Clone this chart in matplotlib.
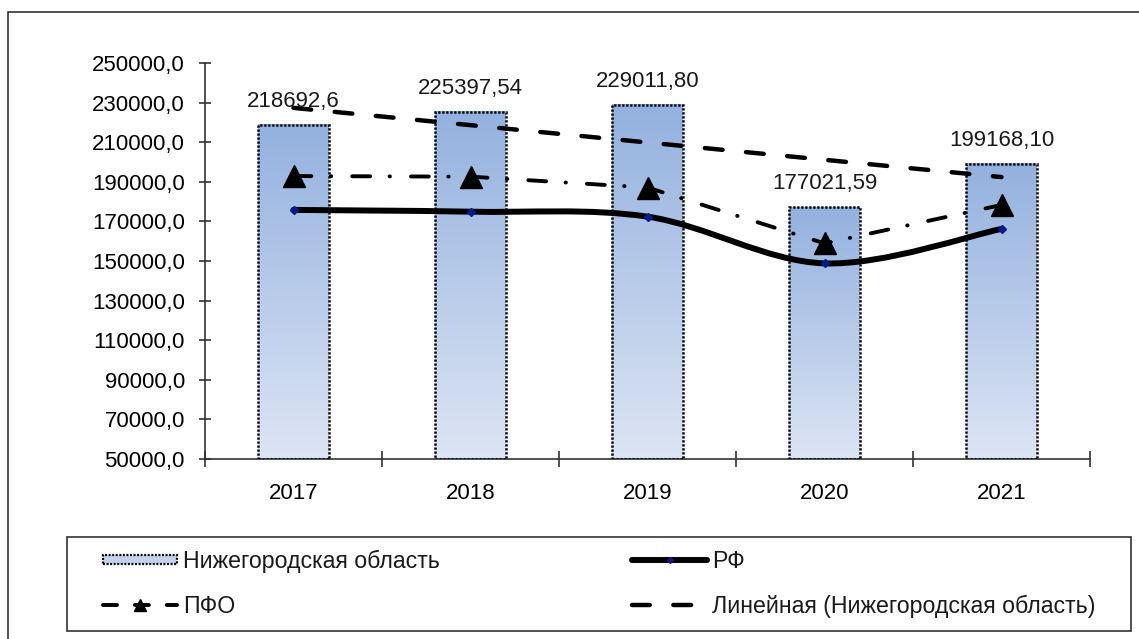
import numpy as np
import matplotlib
matplotlib.use("Agg")
import matplotlib.pyplot as plt
from matplotlib.patches import Rectangle, Patch
from matplotlib.path import Path
from matplotlib.patches import PathPatch
from matplotlib.lines import Line2D
from matplotlib.legend_handler import HandlerPatch
from matplotlib.colors import LinearSegmentedColormap
from matplotlib.ticker import FuncFormatter, FixedLocator

plt.rcParams.update({
    "font.family": ["Liberation Sans", "DejaVu Sans"],
    "font.size": 16,
    "text.color": "#1a1a1a",
})

# ---- data ----
years = ["2017", "2018", "2019", "2020", "2021"]
nizhny = [218692.6, 225397.54, 229011.80, 177021.59, 199168.10]
nizhny_labels = ["218692,6", "225397,54", "229011,80", "177021,59", "199168,10"]
rf = [175800, 174900, 172400, 148800, 166200]
pfo = [192900, 192600, 187100, 158900, 178300]
y_ticks = [50000, 70000, 90000, 110000, 130000, 150000, 170000, 190000, 210000, 230000, 250000]

W, H = 1139, 639
fig = plt.figure(figsize=(W / 100, H / 100), dpi=100)
fig.patch.set_facecolor("white")

# outer chart frame (right/bottom edges are off the picture)
fig.patches.append(Rectangle((8 / W, -0.1), 2.0, 1 - 12 / H + 0.1, transform=fig.transFigure,
                             facecolor="none", edgecolor="#333333", lw=1.2))

ax = fig.add_axes([205 / W, 1 - 459 / H, (1090 - 205) / W, (459 - 63) / H])
x = np.arange(len(years))
y0, y1 = y_ticks[0], y_ticks[-1]

# bars with vertical gradient
cmap = LinearSegmentedColormap.from_list("barfill", ["#DDE5F4", "#93B1DF"])
grad = np.linspace(0, 1, 256).reshape(-1, 1)
bars = ax.bar(x, np.array(nizhny) - y0, bottom=y0, width=0.4, facecolor="none",
              edgecolor="black", linewidth=1.8, linestyle=(0, (0.9, 0.7)), zorder=3)
for r in bars:
    bx, bw = r.get_x(), r.get_width()
    ax.imshow(grad, extent=(bx, bx + bw, y0, y0 + r.get_height()), origin="lower",
              aspect="auto", cmap=cmap, interpolation="bicubic", zorder=2)

for xi, v, lab in zip(x, nizhny, nizhny_labels):
    ax.annotate(lab, (xi, v), xytext=(0, 13), textcoords="offset points",
                ha="center", va="baseline", fontsize=16, zorder=6)

# smoothed RF line (Catmull-Rom -> cubic Bezier)
pts = np.column_stack([x, rf]).astype(float)
verts = [pts[0]]
codes = [Path.MOVETO]
for i in range(len(pts) - 1):
    p0 = pts[i - 1] if i > 0 else pts[i]
    p1, p2 = pts[i], pts[i + 1]
    p3 = pts[i + 2] if i + 2 < len(pts) else pts[i + 1]
    verts += [p1 + (p2 - p0) / 6, p2 - (p3 - p1) / 6, p2]
    codes += [Path.CURVE4] * 3
ax.add_patch(PathPatch(Path(verts, codes), facecolor="none", edgecolor="black",
                       lw=4.3, capstyle="round", joinstyle="round", zorder=4))
ax.plot(x, rf, ls="none", marker="D", ms=4.5, color="#0a1a8c", zorder=5)

# ПФО
ax.plot(x, pfo, color="black", lw=2.8, dashes=(4.6, 5.0, 0.1, 5.4), dash_capstyle="round",
        marker="^", ms=16, zorder=5)

# linear trend of Нижегородская область
k, b = np.polyfit(x, nizhny, 1)
ax.plot(x, k * x + b, color="black", lw=3.2, dashes=(4, 5.3), dash_capstyle="round", zorder=4)

ax.set_xlim(-0.5, len(years) - 0.5)
ax.set_ylim(y0, y1)
ax.set_yticks(y_ticks)
ax.yaxis.set_major_formatter(FuncFormatter(lambda v, p: f"{v:.1f}".replace(".", ",")))
ax.set_xticks(x)
ax.set_xticklabels(years)
ax.xaxis.set_minor_locator(FixedLocator(np.arange(-0.5, len(years), 1.0)))
ax.tick_params(axis="x", which="major", length=0, pad=17, labelsize=16)
ax.tick_params(axis="x", which="minor", direction="inout", length=12, width=1.2, color="#333333")
ax.tick_params(axis="y", direction="inout", length=9, width=1.2, color="#333333", pad=10, labelsize=16)
for s in ["top", "right"]:
    ax.spines[s].set_visible(False)
for s in ["left", "bottom"]:
    ax.spines[s].set_color("#333333")
    ax.spines[s].set_linewidth(1.2)
ax.set_facecolor("none")

# legend
fig.patches.append(Rectangle((67 / W, 1 - 631 / H), (1131 - 67) / W, (631 - 537) / H,
                             transform=fig.transFigure, facecolor="white",
                             edgecolor="#333333", lw=1.2, zorder=0))


def thin_box(legend, orig_handle, xdescent, ydescent, width, height, fontsize):
    return Rectangle((-xdescent, -ydescent + height * 0.22), width, height * 0.56)


handles = [
    Patch(facecolor="#C3D3EE", edgecolor="black", linewidth=1.6, linestyle=(0, (0.9, 0.7))),
    Line2D([], [], color="black", lw=4.3, marker="D", ms=3, mfc="#0a1a8c", mec="#0a1a8c",
           solid_capstyle="round"),
    Line2D([], [], color="black", lw=2.8, dashes=(3.6, 4.6), dash_capstyle="round",
           marker="^", ms=8),
    Line2D([], [], color="black", lw=3.2, dashes=(4, 5.3), dash_capstyle="round"),
]
labels = ["Нижегородская область", "РФ", "ПФО", "Линейная (Нижегородская область)"]
order = [0, 2, 1, 3]
fig.legend([handles[i] for i in order], [labels[i] for i in order], ncol=2,
           loc="center left", bbox_to_anchor=(103 / W, 1 - 584 / H),
           frameon=False, borderpad=0, borderaxespad=0, handlelength=3.2,
           handletextpad=0.25, columnspacing=8.3, labelspacing=0.95, fontsize=16.7,
           handler_map={Patch: HandlerPatch(patch_func=thin_box)})

fig.savefig("out.png", dpi=100, facecolor="white")
